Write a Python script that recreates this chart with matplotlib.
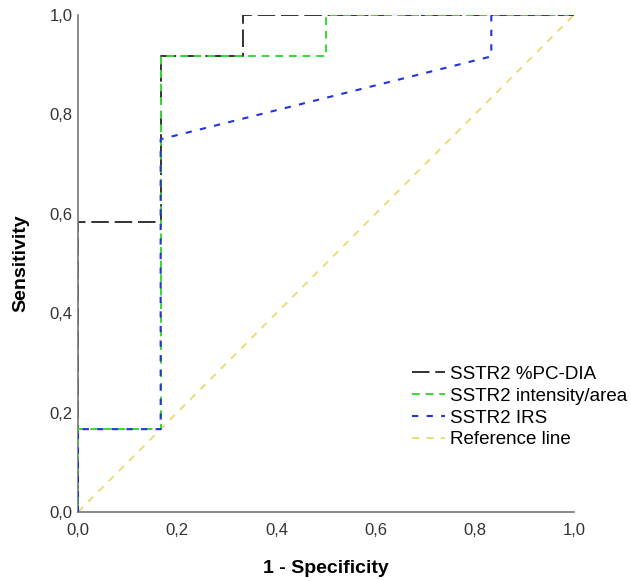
import matplotlib
matplotlib.use("Agg")
import matplotlib.pyplot as plt
from matplotlib.ticker import FuncFormatter

plt.rcParams['font.family'] = ['Liberation Sans', 'DejaVu Sans']

pc_dia_x = [0, 0, 1/6, 1/6, 2/6, 2/6, 1]
pc_dia_y = [0, 7/12, 7/12, 11/12, 11/12, 1, 1]
int_area_x = [0, 0, 1/6, 1/6, 3/6, 3/6, 1]
int_area_y = [0, 2/12, 2/12, 11/12, 11/12, 1, 1]
irs_x = [0, 0, 1/6, 1/6, 5/6, 5/6, 1]
irs_y = [0, 2/12, 2/12, 9/12, 11/12, 1, 1]
ref_x = [0, 1]
ref_y = [0, 1]
ticks = [0, 0.2, 0.4, 0.6, 0.8, 1.0]

fig = plt.figure(figsize=(6.31, 5.81), dpi=100)
ax = fig.add_axes([0.1236, 0.1188, 0.786, 0.8554])

ax.plot(ref_x, ref_y, color='#e6dc6e', lw=1.3, dashes=(4, 4), label='Reference line', zorder=1)
ax.plot(pc_dia_x, pc_dia_y, color='#333333', lw=1.4, dashes=(9, 3), label='SSTR2 %PC-DIA', zorder=2)
ax.plot(int_area_x, int_area_y, color='#33dd33', lw=1.4, dashes=(4, 3), label='SSTR2 intensity/area', zorder=3)
ax.plot(irs_x, irs_y, color='#2233dd', lw=1.5, dashes=(3, 4), label='SSTR2 IRS', zorder=4)

ax.set_xlim(0, 1)
ax.set_ylim(0, 1)
ax.set_xticks(ticks)
ax.set_yticks(ticks)
fmt = FuncFormatter(lambda v, p: f"{v:.1f}".replace('.', ','))
ax.xaxis.set_major_formatter(fmt)
ax.yaxis.set_major_formatter(fmt)
ax.tick_params(length=0, labelsize=12, pad=4, colors='#333333')
ax.tick_params(axis='x', pad=8)
for s in ['top', 'right']:
    ax.spines[s].set_visible(False)
for s in ['left', 'bottom']:
    ax.spines[s].set_color('#777777')
    ax.spines[s].set_linewidth(1.2)

ax.set_xlabel('1 - Specificity', fontsize=14, fontweight='bold', labelpad=16)
ax.set_ylabel('Sensitivity', fontsize=14, fontweight='bold', labelpad=14)

handles, labels = ax.get_legend_handles_labels()
order = [1, 2, 3, 0]
ax.legend([handles[i] for i in order], [labels[i] for i in order], loc='upper left',
          bbox_to_anchor=(0.639, 0.328), frameon=False, fontsize=13.5, handlelength=1.76,
          handletextpad=0.27, labelspacing=0.25)

fig.savefig('out.png', dpi=100)
